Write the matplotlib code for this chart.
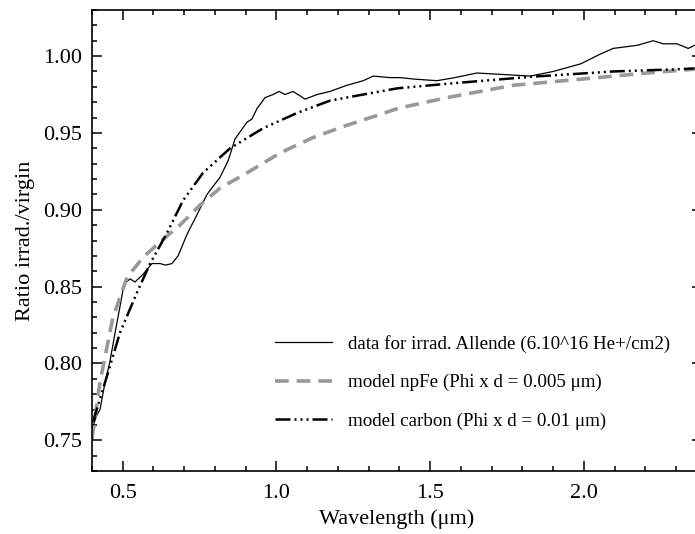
import numpy as np
import matplotlib
matplotlib.use('Agg')
import matplotlib.pyplot as plt
from matplotlib.ticker import MultipleLocator

plt.rcParams['font.family'] = ['Liberation Serif', 'DejaVu Serif']

# data for irradiated Allende (ratio irrad./virgin)
wl_data = [0.403, 0.415, 0.426, 0.44, 0.459, 0.475, 0.491, 0.501, 0.512, 0.524, 0.540,
           0.566, 0.595, 0.621, 0.640, 0.660, 0.680, 0.709, 0.742, 0.774, 0.816,
           0.843, 0.865, 0.904, 0.920, 0.937, 0.963, 0.989, 1.008, 1.028, 1.054,
           1.093, 1.132, 1.174, 1.229, 1.282, 1.315, 1.369, 1.402, 1.45, 1.522,
           1.58, 1.652, 1.74, 1.825, 1.90, 1.99, 2.05, 2.095, 2.173, 2.225, 2.258,
           2.303, 2.339, 2.36]
ratio_data = [0.759, 0.766, 0.770, 0.785, 0.802, 0.820, 0.837, 0.848, 0.853, 0.855, 0.853,
              0.858, 0.865, 0.865, 0.864, 0.865, 0.870, 0.884, 0.897, 0.910, 0.921,
              0.932, 0.946, 0.957, 0.959, 0.966, 0.973, 0.975, 0.977, 0.975, 0.977,
              0.972, 0.975, 0.977, 0.981, 0.984, 0.987, 0.986, 0.986, 0.985, 0.984,
              0.986, 0.989, 0.988, 0.987, 0.990, 0.995, 1.001, 1.005, 1.007, 1.010, 1.008,
              1.008, 1.005, 1.007]

# model npFe (Phi x d = 0.005 um)
wl_npfe = [0.40, 0.426, 0.468, 0.514, 0.566, 0.621, 0.686, 0.751, 0.816, 0.904,
           1.012, 1.119, 1.229, 1.337, 1.395, 1.555, 1.77, 1.99, 2.205, 2.36]
ratio_npfe = [0.751, 0.788, 0.830, 0.856, 0.869, 0.879, 0.890, 0.903, 0.914, 0.924,
              0.937, 0.947, 0.955, 0.962, 0.966, 0.973, 0.981, 0.985, 0.989, 0.9915]

# model carbon (Phi x d = 0.01 um)
wl_carb = [0.403, 0.449, 0.491, 0.546, 0.589, 0.644, 0.696, 0.761, 0.849, 0.956,
           1.067, 1.174, 1.282, 1.392, 1.555, 1.825, 2.095, 2.313, 2.36]
ratio_carb = [0.762, 0.792, 0.820, 0.846, 0.865, 0.885, 0.906, 0.924, 0.940, 0.953,
              0.963, 0.971, 0.975, 0.979, 0.982, 0.9865, 0.990, 0.9915, 0.992]

fig = plt.figure(figsize=(6.95, 5.34), dpi=100)
ax = fig.add_axes([92/695, 63/534, 610/695, 461/534])

ax.plot(wl_data, ratio_data, color='k', lw=0.9,
        label='data for irrad. Allende (6.10^16 He+/cm2)')
ax.plot(wl_npfe, ratio_npfe, color='#999999', lw=2.6, dashes=(3.8, 2.2),
        label='model npFe (Phi x d = 0.005 \u03bcm)')
ax.plot(wl_carb, ratio_carb, color='k', lw=1.8,
        dashes=(6, 1.6, 0.8, 1.6, 0.8, 1.6, 0.8, 1.6),
        label='model carbon (Phi x d = 0.01 \u03bcm)')

ax.set_xlim(0.4, 2.384)
ax.set_ylim(0.73, 1.03)
ax.xaxis.set_major_locator(MultipleLocator(0.5))
ax.xaxis.set_minor_locator(MultipleLocator(0.1))
ax.yaxis.set_major_locator(MultipleLocator(0.05))
ax.yaxis.set_minor_locator(MultipleLocator(0.01))
ax.xaxis.set_major_formatter(plt.FormatStrFormatter('%.1f'))
ax.yaxis.set_major_formatter(plt.FormatStrFormatter('%.2f'))
ax.tick_params(which='both', direction='in', top=True, right=True,
               labelsize=16, width=1.1)
ax.tick_params(which='major', length=7, pad=7)
ax.tick_params(axis='x', which='major', pad=9)
ax.tick_params(which='minor', length=3.5)
for s in ax.spines.values():
    s.set_linewidth(1.2)

ax.set_xlabel('Wavelength (\u03bcm)', fontsize=16, labelpad=5)
ax.set_ylabel('Ratio irrad./virgin', fontsize=16, labelpad=6)

ax.legend(frameon=False, fontsize=13.7, loc='upper left',
          bbox_to_anchor=(275/695, 1 - 335/534), bbox_transform=fig.transFigure,
          borderpad=0, borderaxespad=0, handlelength=3.0, handletextpad=0.85,
          labelspacing=1.1)

fig.savefig('out.png', dpi=100)
